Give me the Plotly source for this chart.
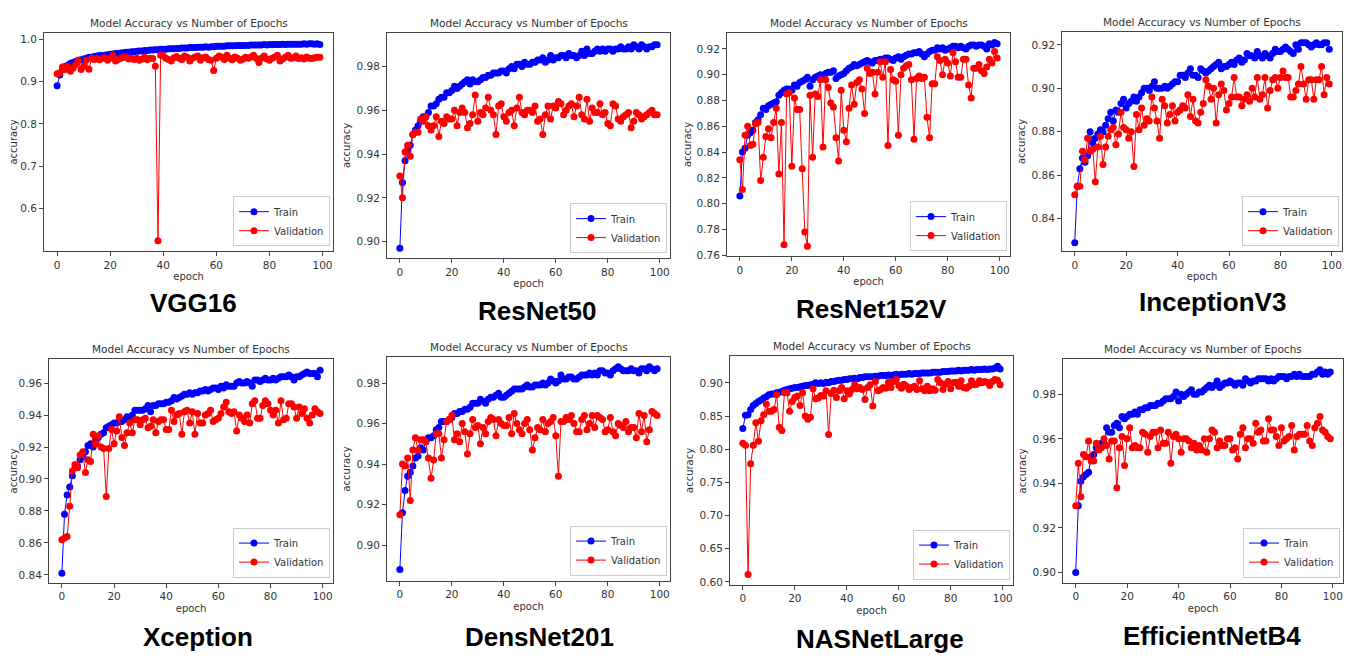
import plotly.graph_objects as go

epochs = list(range(100))

model_names = ["VGG16", "ResNet50", "ResNet152V", "InceptionV3",
               "Xception", "DensNet201", "NASNetLarge", "EfficientNetB4"]

vgg16_train = [0.890, 0.915, 0.928, 0.935, 0.938, 0.943, 0.945, 0.947, 0.950, 0.951,
               0.953, 0.955, 0.957, 0.957, 0.959, 0.960, 0.961, 0.961, 0.962, 0.963,
               0.964, 0.965, 0.966, 0.966, 0.967, 0.968, 0.969, 0.969, 0.970, 0.970,
               0.971, 0.972, 0.972, 0.973, 0.973, 0.974, 0.974, 0.975, 0.975, 0.976,
               0.976, 0.976, 0.977, 0.977, 0.977, 0.978, 0.978, 0.979, 0.979, 0.979,
               0.980, 0.980, 0.980, 0.981, 0.981, 0.981, 0.982, 0.981, 0.982, 0.982,
               0.983, 0.983, 0.983, 0.983, 0.984, 0.984, 0.984, 0.984, 0.985, 0.985,
               0.985, 0.985, 0.985, 0.986, 0.986, 0.986, 0.986, 0.986, 0.987, 0.986,
               0.987, 0.987, 0.987, 0.987, 0.987, 0.988, 0.987, 0.988, 0.988, 0.988,
               0.988, 0.988, 0.988, 0.989, 0.988, 0.989, 0.989, 0.988, 0.989, 0.987]
vgg16_val = [0.918, 0.920, 0.934, 0.928, 0.936, 0.924, 0.931, 0.940, 0.950, 0.928,
             0.936, 0.950, 0.929, 0.955, 0.952, 0.954, 0.951, 0.955, 0.956, 0.950,
             0.955, 0.962, 0.948, 0.952, 0.955, 0.958, 0.957, 0.953, 0.955, 0.952,
             0.955, 0.950, 0.953, 0.957, 0.951, 0.955, 0.954, 0.936, 0.524, 0.962,
             0.960, 0.955, 0.952, 0.948, 0.956, 0.959, 0.955, 0.952, 0.960, 0.957,
             0.948, 0.955, 0.958, 0.960, 0.950, 0.956, 0.958, 0.952, 0.950, 0.926,
             0.955, 0.960, 0.957, 0.952, 0.962, 0.955, 0.951, 0.958, 0.955, 0.950,
             0.953, 0.957, 0.955, 0.958, 0.962, 0.955, 0.945, 0.955, 0.960, 0.953,
             0.950, 0.955, 0.958, 0.962, 0.948, 0.953, 0.957, 0.962, 0.955, 0.956,
             0.960, 0.954, 0.956, 0.953, 0.958, 0.955, 0.954, 0.956, 0.957, 0.957]

resnet50_train = [0.897, 0.927, 0.937, 0.942, 0.944, 0.949, 0.951, 0.953, 0.955, 0.957,
                  0.957, 0.959, 0.962, 0.962, 0.963, 0.965, 0.966, 0.966, 0.968, 0.968,
                  0.969, 0.971, 0.970, 0.971, 0.972, 0.973, 0.974, 0.972, 0.974, 0.973,
                  0.973, 0.974, 0.975, 0.975, 0.976, 0.976, 0.977, 0.977, 0.977, 0.978,
                  0.978, 0.977, 0.979, 0.980, 0.979, 0.981, 0.981, 0.980, 0.982, 0.981,
                  0.981, 0.982, 0.982, 0.983, 0.983, 0.984, 0.982, 0.983, 0.985, 0.983,
                  0.984, 0.984, 0.985, 0.985, 0.984, 0.986, 0.985, 0.985, 0.984, 0.985,
                  0.987, 0.985, 0.988, 0.986, 0.986, 0.987, 0.988, 0.987, 0.988, 0.987,
                  0.988, 0.988, 0.987, 0.988, 0.988, 0.989, 0.988, 0.988, 0.989, 0.988,
                  0.990, 0.989, 0.988, 0.990, 0.989, 0.988, 0.989, 0.989, 0.990, 0.990]
resnet50_val = [0.930, 0.920, 0.941, 0.944, 0.939, 0.949, 0.950, 0.950, 0.956, 0.955,
                0.957, 0.953, 0.951, 0.953, 0.957, 0.948, 0.955, 0.954, 0.957, 0.956,
                0.956, 0.960, 0.953, 0.959, 0.961, 0.959, 0.952, 0.954, 0.958, 0.967,
                0.955, 0.959, 0.958, 0.961, 0.966, 0.960, 0.958, 0.949, 0.962, 0.963,
                0.957, 0.955, 0.959, 0.960, 0.953, 0.961, 0.966, 0.959, 0.958, 0.960,
                0.960, 0.959, 0.962, 0.955, 0.956, 0.949, 0.958, 0.962, 0.956, 0.962,
                0.961, 0.964, 0.963, 0.958, 0.960, 0.962, 0.963, 0.957, 0.962, 0.966,
                0.958, 0.956, 0.965, 0.955, 0.961, 0.959, 0.959, 0.963, 0.958, 0.959,
                0.954, 0.953, 0.963, 0.962, 0.956, 0.955, 0.957, 0.958, 0.959, 0.952,
                0.955, 0.959, 0.958, 0.956, 0.957, 0.958, 0.959, 0.960, 0.958, 0.958]

resnet152v_train = [0.806, 0.840, 0.843, 0.853, 0.855, 0.857, 0.863, 0.865, 0.869, 0.874,
                    0.873, 0.876, 0.877, 0.878, 0.879, 0.884, 0.886, 0.888, 0.889, 0.889,
                    0.888, 0.892, 0.891, 0.894, 0.895, 0.896, 0.898, 0.891, 0.896, 0.898,
                    0.899, 0.900, 0.899, 0.901, 0.902, 0.902, 0.903, 0.897, 0.899, 0.900,
                    0.901, 0.903, 0.905, 0.906, 0.908, 0.907, 0.908, 0.909, 0.910, 0.911,
                    0.910, 0.909, 0.911, 0.911, 0.912, 0.912, 0.913, 0.913, 0.912, 0.911,
                    0.913, 0.914, 0.912, 0.914, 0.915, 0.916, 0.916, 0.917, 0.917, 0.918,
                    0.916, 0.914, 0.916, 0.918, 0.919, 0.919, 0.921, 0.920, 0.921, 0.919,
                    0.920, 0.921, 0.922, 0.922, 0.921, 0.922, 0.921, 0.920, 0.922, 0.923,
                    0.923, 0.922, 0.923, 0.923, 0.922, 0.920, 0.924, 0.923, 0.925, 0.924]
resnet152v_val = [0.834, 0.811, 0.853, 0.860, 0.845, 0.846, 0.862, 0.863, 0.818, 0.836,
                  0.852, 0.858, 0.851, 0.863, 0.874, 0.823, 0.863, 0.768, 0.885, 0.886,
                  0.829, 0.882, 0.873, 0.873, 0.827, 0.778, 0.767, 0.884, 0.836, 0.885,
                  0.883, 0.896, 0.844, 0.896, 0.890, 0.878, 0.875, 0.851, 0.833, 0.888,
                  0.857, 0.848, 0.874, 0.892, 0.877, 0.894, 0.896, 0.889, 0.870, 0.905,
                  0.901, 0.902, 0.885, 0.902, 0.910, 0.898, 0.910, 0.845, 0.904, 0.896,
                  0.895, 0.853, 0.900, 0.905, 0.907, 0.908, 0.896, 0.850, 0.897, 0.899,
                  0.897, 0.898, 0.867, 0.851, 0.893, 0.893, 0.914, 0.911, 0.900, 0.912,
                  0.909, 0.899, 0.917, 0.910, 0.898, 0.898, 0.912, 0.912, 0.892, 0.882,
                  0.905, 0.905, 0.908, 0.903, 0.901, 0.906, 0.912, 0.909, 0.918, 0.913]

inceptionv3_train = [0.829, 0.855, 0.863, 0.868, 0.866, 0.869, 0.880, 0.875, 0.877, 0.879,
                     0.881, 0.880, 0.883, 0.886, 0.889, 0.885, 0.890, 0.889, 0.893, 0.895,
                     0.891, 0.893, 0.894, 0.896, 0.894, 0.896, 0.898, 0.900, 0.900, 0.899,
                     0.901, 0.903, 0.900, 0.900, 0.900, 0.901, 0.900, 0.901, 0.902, 0.903,
                     0.903, 0.906, 0.906, 0.905, 0.907, 0.909, 0.906, 0.906, 0.905, 0.909,
                     0.908, 0.907, 0.908, 0.909, 0.910, 0.911, 0.912, 0.909, 0.910, 0.910,
                     0.911, 0.912, 0.911, 0.913, 0.914, 0.912, 0.913, 0.916, 0.915, 0.915,
                     0.914, 0.917, 0.915, 0.914, 0.916, 0.915, 0.914, 0.916, 0.918, 0.917,
                     0.917, 0.918, 0.919, 0.918, 0.917, 0.916, 0.920, 0.918, 0.921, 0.921,
                     0.921, 0.920, 0.919, 0.920, 0.921, 0.920, 0.920, 0.921, 0.921, 0.918]
inceptionv3_val = [0.851, 0.855, 0.855, 0.871, 0.867, 0.877, 0.871, 0.872, 0.857, 0.873,
                   0.878, 0.865, 0.873, 0.878, 0.881, 0.882, 0.874, 0.879, 0.889, 0.882,
                   0.881, 0.877, 0.880, 0.864, 0.888, 0.881, 0.891, 0.883, 0.886, 0.885,
                   0.896, 0.891, 0.885, 0.877, 0.895, 0.892, 0.884, 0.888, 0.892, 0.885,
                   0.889, 0.890, 0.892, 0.891, 0.897, 0.887, 0.895, 0.885, 0.884, 0.889,
                   0.893, 0.904, 0.901, 0.895, 0.900, 0.884, 0.897, 0.902, 0.899, 0.890,
                   0.893, 0.896, 0.905, 0.896, 0.896, 0.892, 0.895, 0.897, 0.894, 0.900,
                   0.896, 0.905, 0.895, 0.897, 0.905, 0.891, 0.899, 0.904, 0.905, 0.900,
                   0.905, 0.908, 0.905, 0.905, 0.896, 0.896, 0.899, 0.902, 0.910, 0.902,
                   0.895, 0.904, 0.904, 0.895, 0.904, 0.904, 0.910, 0.897, 0.905, 0.902]

xception_train = [0.841, 0.878, 0.890, 0.895, 0.902, 0.907, 0.908, 0.912, 0.914, 0.917,
                  0.921, 0.922, 0.920, 0.925, 0.926, 0.928, 0.929, 0.932, 0.933, 0.934,
                  0.935, 0.935, 0.936, 0.936, 0.937, 0.939, 0.938, 0.940, 0.943, 0.943,
                  0.943, 0.943, 0.944, 0.946, 0.942, 0.946, 0.946, 0.947, 0.947, 0.947,
                  0.948, 0.948, 0.949, 0.951, 0.950, 0.951, 0.952, 0.953, 0.953, 0.954,
                  0.953, 0.954, 0.954, 0.955, 0.955, 0.956, 0.955, 0.956, 0.957, 0.957,
                  0.956, 0.958, 0.957, 0.959, 0.958, 0.958, 0.958, 0.960, 0.961, 0.960,
                  0.960, 0.961, 0.960, 0.958, 0.962, 0.962, 0.961, 0.962, 0.963, 0.962,
                  0.962, 0.963, 0.962, 0.963, 0.964, 0.964, 0.964, 0.965, 0.964, 0.962,
                  0.964, 0.964, 0.965, 0.966, 0.967, 0.966, 0.966, 0.966, 0.964, 0.968]
xception_val = [0.862, 0.863, 0.864, 0.883, 0.905, 0.909, 0.907, 0.915, 0.917, 0.904,
                0.912, 0.911, 0.928, 0.922, 0.927, 0.920, 0.919, 0.889, 0.919, 0.931,
                0.922, 0.930, 0.939, 0.926, 0.921, 0.929, 0.935, 0.929, 0.937, 0.937,
                0.934, 0.937, 0.938, 0.932, 0.933, 0.937, 0.929, 0.936, 0.937, 0.937,
                0.931, 0.931, 0.943, 0.936, 0.940, 0.941, 0.928, 0.942, 0.943, 0.935,
                0.942, 0.928, 0.941, 0.935, 0.935, 0.940, 0.941, 0.943, 0.936, 0.937,
                0.938, 0.941, 0.945, 0.948, 0.942, 0.941, 0.942, 0.930, 0.940, 0.938,
                0.936, 0.940, 0.935, 0.947, 0.949, 0.938, 0.938, 0.946, 0.949, 0.947,
                0.943, 0.940, 0.943, 0.935, 0.949, 0.937, 0.938, 0.947, 0.947, 0.945,
                0.938, 0.945, 0.941, 0.944, 0.938, 0.935, 0.940, 0.944, 0.942, 0.941]

densnet201_train = [0.888, 0.916, 0.927, 0.934, 0.936, 0.939, 0.943, 0.944, 0.948, 0.947,
                    0.951, 0.953, 0.953, 0.954, 0.957, 0.958, 0.961, 0.961, 0.961, 0.962,
                    0.963, 0.965, 0.965, 0.966, 0.966, 0.967, 0.967, 0.968, 0.970, 0.970,
                    0.970, 0.972, 0.971, 0.970, 0.972, 0.973, 0.973, 0.974, 0.975, 0.973,
                    0.973, 0.974, 0.975, 0.976, 0.977, 0.977, 0.977, 0.977, 0.978, 0.979,
                    0.978, 0.978, 0.979, 0.979, 0.979, 0.980, 0.979, 0.980, 0.982, 0.981,
                    0.980, 0.981, 0.984, 0.982, 0.982, 0.983, 0.983, 0.982, 0.982, 0.983,
                    0.984, 0.984, 0.984, 0.985, 0.984, 0.985, 0.984, 0.986, 0.986, 0.985,
                    0.985, 0.984, 0.986, 0.987, 0.988, 0.987, 0.986, 0.986, 0.986, 0.987,
                    0.986, 0.986, 0.985, 0.987, 0.987, 0.986, 0.988, 0.987, 0.986, 0.987]
densnet201_val = [0.915, 0.940, 0.939, 0.943, 0.922, 0.947, 0.953, 0.947, 0.952, 0.952,
                  0.951, 0.943, 0.933, 0.942, 0.955, 0.955, 0.943, 0.952, 0.961, 0.962,
                  0.964, 0.952, 0.955, 0.951, 0.960, 0.956, 0.945, 0.955, 0.962, 0.958,
                  0.959, 0.950, 0.958, 0.955, 0.961, 0.963, 0.962, 0.954, 0.962, 0.960,
                  0.959, 0.959, 0.963, 0.955, 0.965, 0.960, 0.957, 0.955, 0.960, 0.962,
                  0.957, 0.947, 0.953, 0.958, 0.957, 0.962, 0.956, 0.960, 0.961, 0.963,
                  0.954, 0.934, 0.961, 0.961, 0.963, 0.962, 0.964, 0.960, 0.956, 0.956,
                  0.962, 0.964, 0.957, 0.960, 0.964, 0.958, 0.964, 0.963, 0.962, 0.956,
                  0.957, 0.963, 0.956, 0.954, 0.960, 0.959, 0.958, 0.961, 0.956, 0.958,
                  0.958, 0.953, 0.965, 0.956, 0.964, 0.951, 0.957, 0.966, 0.965, 0.964]

nasnetlarge_train = [0.831, 0.851, 0.852, 0.860, 0.866, 0.869, 0.872, 0.874, 0.877, 0.879,
                     0.882, 0.883, 0.883, 0.885, 0.886, 0.887, 0.889, 0.890, 0.891, 0.892,
                     0.893, 0.893, 0.894, 0.895, 0.896, 0.896, 0.897, 0.898, 0.900, 0.899,
                     0.900, 0.899, 0.901, 0.900, 0.902, 0.902, 0.903, 0.904, 0.904, 0.905,
                     0.905, 0.906, 0.906, 0.907, 0.906, 0.908, 0.908, 0.909, 0.909, 0.909,
                     0.909, 0.910, 0.910, 0.911, 0.911, 0.911, 0.912, 0.911, 0.912, 0.913,
                     0.912, 0.913, 0.913, 0.913, 0.914, 0.913, 0.914, 0.914, 0.914, 0.915,
                     0.915, 0.915, 0.915, 0.916, 0.916, 0.916, 0.916, 0.917, 0.917, 0.917,
                     0.918, 0.918, 0.918, 0.919, 0.918, 0.919, 0.919, 0.919, 0.920, 0.919,
                     0.920, 0.920, 0.920, 0.921, 0.920, 0.921, 0.921, 0.922, 0.925, 0.921]
nasnetlarge_val = [0.809, 0.806, 0.611, 0.778, 0.806, 0.840, 0.812, 0.843, 0.852, 0.868,
                   0.857, 0.857, 0.860, 0.882, 0.833, 0.828, 0.885, 0.885, 0.857, 0.872,
                   0.878, 0.880, 0.866, 0.885, 0.850, 0.845, 0.848, 0.891, 0.876, 0.877,
                   0.881, 0.880, 0.888, 0.822, 0.884, 0.889, 0.878, 0.888, 0.893, 0.876,
                   0.888, 0.883, 0.890, 0.897, 0.891, 0.893, 0.890, 0.875, 0.893, 0.897,
                   0.865, 0.902, 0.888, 0.890, 0.893, 0.892, 0.901, 0.893, 0.902, 0.905,
                   0.896, 0.892, 0.898, 0.895, 0.890, 0.893, 0.895, 0.890, 0.903, 0.891,
                   0.888, 0.895, 0.888, 0.891, 0.889, 0.905, 0.900, 0.890, 0.898, 0.902,
                   0.891, 0.900, 0.901, 0.895, 0.903, 0.893, 0.892, 0.895, 0.903, 0.897,
                   0.898, 0.903, 0.900, 0.902, 0.901, 0.896, 0.902, 0.905, 0.904, 0.897]

efficientnetb4_train = [0.900, 0.930, 0.941, 0.943, 0.944, 0.945, 0.952, 0.953, 0.956, 0.957,
                        0.958, 0.958, 0.965, 0.963, 0.963, 0.966, 0.967, 0.965, 0.970, 0.969,
                        0.970, 0.971, 0.971, 0.972, 0.971, 0.973, 0.973, 0.974, 0.974, 0.975,
                        0.975, 0.975, 0.976, 0.976, 0.977, 0.978, 0.978, 0.978, 0.979, 0.981,
                        0.977, 0.980, 0.979, 0.980, 0.981, 0.982, 0.980, 0.980, 0.981, 0.981,
                        0.982, 0.983, 0.984, 0.983, 0.984, 0.986, 0.983, 0.984, 0.985, 0.985,
                        0.986, 0.985, 0.984, 0.985, 0.985, 0.984, 0.987, 0.986, 0.985, 0.986,
                        0.986, 0.987, 0.987, 0.987, 0.987, 0.986, 0.987, 0.986, 0.987, 0.988,
                        0.988, 0.988, 0.987, 0.988, 0.988, 0.989, 0.988, 0.989, 0.988, 0.988,
                        0.988, 0.988, 0.989, 0.989, 0.990, 0.991, 0.989, 0.990, 0.989, 0.990]
efficientnetb4_val = [0.930, 0.949, 0.934, 0.953, 0.952, 0.959, 0.950, 0.950, 0.958, 0.955,
                      0.956, 0.960, 0.957, 0.951, 0.959, 0.959, 0.938, 0.956, 0.961, 0.948,
                      0.960, 0.965, 0.956, 0.957, 0.956, 0.956, 0.963, 0.962, 0.954, 0.961,
                      0.963, 0.963, 0.956, 0.964, 0.958, 0.958, 0.963, 0.949, 0.961, 0.962,
                      0.960, 0.954, 0.960, 0.960, 0.959, 0.956, 0.958, 0.955, 0.957, 0.955,
                      0.960, 0.954, 0.960, 0.964, 0.963, 0.956, 0.959, 0.957, 0.957, 0.960,
                      0.960, 0.955, 0.956, 0.951, 0.962, 0.965, 0.956, 0.960, 0.960, 0.958,
                      0.967, 0.963, 0.964, 0.959, 0.959, 0.969, 0.964, 0.964, 0.961, 0.957,
                      0.965, 0.959, 0.960, 0.961, 0.966, 0.955, 0.961, 0.962, 0.962, 0.962,
                      0.966, 0.959, 0.957, 0.965, 0.967, 0.970, 0.964, 0.963, 0.961, 0.960]

train_series = [vgg16_train, resnet50_train, resnet152v_train, inceptionv3_train,
                xception_train, densnet201_train, nasnetlarge_train, efficientnetb4_train]
val_series = [vgg16_val, resnet50_val, resnet152v_val, inceptionv3_val,
              xception_val, densnet201_val, nasnetlarge_val, efficientnetb4_val]

y_ticks = [[0.6, 0.7, 0.8, 0.9, 1.0],
           [0.90, 0.92, 0.94, 0.96, 0.98],
           [0.76, 0.78, 0.80, 0.82, 0.84, 0.86, 0.88, 0.90, 0.92],
           [0.84, 0.86, 0.88, 0.90, 0.92],
           [0.84, 0.86, 0.88, 0.90, 0.92, 0.94, 0.96],
           [0.90, 0.92, 0.94, 0.96, 0.98],
           [0.60, 0.65, 0.70, 0.75, 0.80, 0.85, 0.90],
           [0.90, 0.92, 0.94, 0.96, 0.98]]
y_formats = [".1f", ".2f", ".2f", ".2f", ".2f", ".2f", ".2f", ".2f"]
x_ticks = [0, 20, 40, 60, 80, 100]

# layout (window pixels); the page body has an 8px margin
OFF = 8
W, H = 1353 - OFF, 659 - OFF
boxes = [(44, 333, 33, 253), (387, 670, 33, 260), (727, 1010, 33, 258), (1062, 1342, 32, 253),
         (49, 333, 362, 587), (387, 670, 360, 585), (730, 1013, 359, 589), (1063, 1343, 362, 587)]
y_ranges = [(0.4996, 1.0148), (0.8925, 0.9954), (0.7593, 0.9325), (0.8251, 0.926),
            (0.8352, 0.9749), (0.8825, 0.9927), (0.596, 0.940), (0.8955, 0.9957)]
name_pos = [(193, 305), (537, 313), (871, 311), (1212, 304),
            (198, 642), (539, 642), (880, 644), (1212, 641)]

FONT = "DejaVu Sans"
TXT = "#333333"

def px(x):
    return (x - OFF) / W

def py(y):
    return 1 - (y - OFF) / H

fig = go.Figure()
annotations = []
layout = dict(width=W, height=H, margin=dict(l=0, r=0, t=0, b=0),
              paper_bgcolor="white", plot_bgcolor="white", showlegend=True)

for i in range(8):
    sfx = "" if i == 0 else str(i + 1)
    x0, x1, y0, y1 = boxes[i]
    leg = "legend" + sfx
    fig.add_trace(go.Scatter(x=epochs, y=train_series[i], mode="lines+markers", name="Train",
                             line=dict(color="#0000ff", width=1),
                             marker=dict(color="#0000ff", size=7),
                             xaxis="x" + sfx, yaxis="y" + sfx, legend=leg))
    fig.add_trace(go.Scatter(x=epochs, y=val_series[i], mode="lines+markers", name="Validation",
                             line=dict(color="#ff0000", width=1),
                             marker=dict(color="#ff0000", size=7),
                             xaxis="x" + sfx, yaxis="y" + sfx, legend=leg))
    axis_common = dict(showline=True, mirror=True, linecolor="#444444", linewidth=1,
                       ticks="outside", ticklen=4, tickcolor="#444444", showgrid=False,
                       zeroline=False, tickfont=dict(family=FONT, size=10.5, color=TXT))
    layout["xaxis" + sfx] = dict(axis_common, domain=[px(x0), px(x1)], anchor="y" + sfx,
                                 range=[-4.95, 103.95], tickvals=x_ticks,
                                 title=dict(text="epoch", font=dict(family=FONT, size=10, color=TXT),
                                            standoff=3))
    layout["yaxis" + sfx] = dict(axis_common, domain=[py(y1), py(y0)], anchor="x" + sfx,
                                 range=list(y_ranges[i]), tickvals=y_ticks[i],
                                 tickformat=y_formats[i],
                                 title=dict(text="accuracy", font=dict(family=FONT, size=10, color=TXT),
                                            standoff=3))
    layout[leg] = dict(x=px(x1 - 3), y=py(y1 - 5), xanchor="right", yanchor="bottom",
                       bgcolor="rgba(255,255,255,0.85)", bordercolor="#cccccc", borderwidth=1,
                       font=dict(family=FONT, size=10, color=TXT),
                       tracegroupgap=0, itemwidth=30)
    annotations.append(dict(x=px((x0 + x1) / 2), y=py(y0 - 10), xref="paper", yref="paper",
                            text="Model Accuracy vs Number of Epochs", showarrow=False,
                            xanchor="center", yanchor="middle",
                            font=dict(family=FONT, size=10.5, color=TXT)))
    nx, ny = name_pos[i]
    annotations.append(dict(x=px(nx), y=py(ny), xref="paper", yref="paper",
                            text="<b>" + model_names[i] + "</b>", showarrow=False,
                            xanchor="center", yanchor="middle",
                            font=dict(family="Liberation Sans", size=26, color="black")))

layout["annotations"] = annotations
fig.update_layout(**layout)
fig.write_html("out.html")
